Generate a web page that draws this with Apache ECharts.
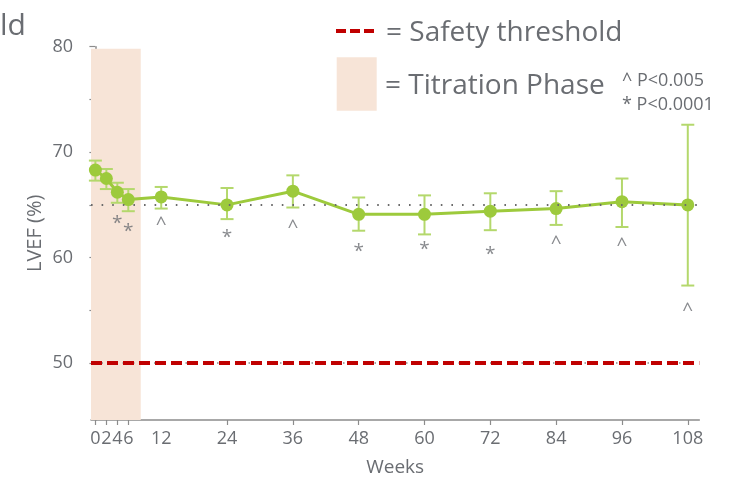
<!DOCTYPE html>
<html>
<head>
<meta charset="utf-8">
<script src="https://cdn.jsdelivr.net/npm/echarts@6/dist/echarts.min.js"></script>
<style>
  html, body { margin: 0; padding: 0; background: #ffffff; }
  #chart { width: 738px; height: 479px; }
</style>
</head>
<body>
<div id="chart"></div>
<script>
// Mean LVEF by study week, with the upper and lower ends of each error bar
const weeks = [0, 2, 4, 6, 12, 24, 36, 48, 60, 72, 84, 96, 108];
const lvefMean = [68.3, 67.5, 66.2, 65.5, 65.75, 65.0, 66.3, 64.1, 64.1, 64.4, 64.65, 65.3, 65.0];
const lvefUpper = [69.2, 68.4, 67.1, 66.5, 66.7, 66.6, 67.8, 65.7, 65.9, 66.1, 66.3, 67.5, 72.6];
const lvefLower = [67.3, 66.5, 65.2, 64.4, 64.65, 63.65, 64.75, 62.55, 62.2, 62.6, 63.1, 62.9, 57.35];

// Significance markers placed under the bars
const sigWeeks = [4, 6, 12, 24, 36, 48, 60, 72, 84, 96, 108];
const sigMarks = ['*', '*', '^', '*', '^', '*', '*', '*', '^', '^', '^'];
const sigLevels = [63.5, 62.7, 63.4, 62.1, 63.1, 60.8, 61.0, 60.5, 61.6, 61.4, 55.2];

// Axis ticks and labels
const xTickWeeks = [0, 2, 4, 6, 24, 36, 48, 60, 72, 84, 96, 108];
const xLabelWeeks = [0, 2, 4, 6, 12, 24, 36, 48, 60, 72, 84, 96, 108];
const yTickValues = [50, 55, 60, 65, 70, 75, 80];
const yLabelValues = [50, 60, 70, 80];

// Reference levels and the titration window
const safetyThreshold = 50;
const baselineLevel = 65;
const titrationStartWeek = -0.8;
const titrationEndWeek = 8.27;
const titrationTop = 79.8;

const xMin = -0.8, xMax = 110.1;
const yMin = 44.6, yMax = 80;

const FONT = '"Open Sans", "DejaVu Sans", sans-serif';
const TEXT = '#6a6d72';
const AXIS = '#8c8c8c';
const GREEN = '#9dca3c';
const GREEN_LIGHT = '#b4d86c';
const RED = '#c00000';
const PEACH = '#f7e4d7';

const chart = echarts.init(document.getElementById('chart'), null, { renderer: 'canvas' });

const errorData = weeks.map((w, i) => [w, lvefLower[i], lvefUpper[i]]);
const meanData = weeks.map((w, i) => [w, lvefMean[i]]);
const sigData = sigWeeks.map((w, i) => ({ value: [w, sigLevels[i]], mark: sigMarks[i] }));

chart.setOption({
  animation: false,
  backgroundColor: '#ffffff',
  grid: { left: 91, right: 38.7, top: 46.7, bottom: 59, outerBoundsMode: 'none', containLabel: false },
  xAxis: {
    type: 'value',
    min: xMin,
    max: xMax,
    name: 'Weeks',
    nameLocation: 'middle',
    nameGap: 38,
    nameMoveOverlap: false,
    nameTextStyle: { color: TEXT, fontFamily: FONT, fontSize: 19 },
    axisLine: { show: true, lineStyle: { color: AXIS, width: 1.5 } },
    axisTick: { show: true, customValues: xTickWeeks, length: 5, lineStyle: { color: AXIS, width: 1.2 } },
    axisLabel: { customValues: xLabelWeeks, color: TEXT, fontFamily: FONT, fontSize: 18, margin: 10 },
    splitLine: { show: false }
  },
  yAxis: {
    type: 'value',
    min: yMin,
    max: yMax,
    name: 'LVEF (%)',
    nameLocation: 'middle',
    nameGap: 46,
    nameMoveOverlap: false,
    nameTextStyle: { color: TEXT, fontFamily: FONT, fontSize: 20 },
    axisLine: { show: true, lineStyle: { color: AXIS, width: 1.5 } },
    axisTick: { show: true, customValues: yTickValues, length: 6, lineStyle: { color: AXIS, width: 1.2 } },
    axisLabel: { customValues: yLabelValues, color: TEXT, fontFamily: FONT, fontSize: 18, margin: 18 },
    splitLine: { show: false }
  },
  graphic: [
    {
      type: 'text', left: 0, top: 11,
      style: { text: 'ld', fill: TEXT, font: '30px ' + FONT }
    },
    {
      type: 'line',
      shape: { x1: 336, y1: 31, x2: 375, y2: 31 },
      style: { stroke: RED, lineWidth: 4, lineDash: [10, 4] }
    },
    {
      type: 'text', x: 386, y: 33,
      style: { text: '= Safety threshold', fill: TEXT, font: '28px ' + FONT, verticalAlign: 'middle' }
    },
    {
      type: 'rect',
      shape: { x: 336.7, y: 57.3, width: 40, height: 53.4 },
      style: { fill: PEACH }
    },
    {
      type: 'text', x: 385, y: 86.5,
      style: { text: '= Titration Phase', fill: TEXT, font: '28px ' + FONT, verticalAlign: 'middle' }
    },
    {
      type: 'text', x: 622, y: 80.5,
      style: { text: '^ P<0.005', fill: TEXT, font: '18px ' + FONT, verticalAlign: 'middle' }
    },
    {
      type: 'text', x: 622, y: 105,
      style: { text: '* P<0.0001', fill: TEXT, font: '18px ' + FONT, verticalAlign: 'middle' }
    }
  ],
  series: [
    {
      // titration window shading plus the two horizontal reference lines
      type: 'line',
      data: [],
      silent: true,
      z: 1,
      markArea: {
        silent: true,
        itemStyle: { color: PEACH },
        data: [[
          { xAxis: titrationStartWeek, yAxis: yMin },
          { xAxis: titrationEndWeek, yAxis: titrationTop }
        ]]
      },
      markLine: {
        silent: true,
        symbol: 'none',
        label: { show: false },
        data: [
          { yAxis: baselineLevel, lineStyle: { color: '#6b6b6b', width: 2, type: [1.6, 9] } },
          { yAxis: safetyThreshold, lineStyle: { color: '#8a8a8a', width: 1.5, type: [1.5, 9] } },
          { yAxis: safetyThreshold, lineStyle: { color: RED, width: 4, type: [11, 5] } }
        ]
      }
    },
    {
      type: 'custom',
      name: 'range',
      z: 3,
      silent: true,
      data: errorData,
      renderItem: function (params, api) {
        const x = api.value(0);
        const lo = api.coord([x, api.value(1)]);
        const hi = api.coord([x, api.value(2)]);
        const half = 6.5;
        const style = { stroke: GREEN_LIGHT, lineWidth: 2 };
        return {
          type: 'group',
          children: [
            { type: 'line', shape: { x1: lo[0], y1: lo[1], x2: hi[0], y2: hi[1] }, style: style },
            { type: 'line', shape: { x1: hi[0] - half, y1: hi[1], x2: hi[0] + half, y2: hi[1] }, style: style },
            { type: 'line', shape: { x1: lo[0] - half, y1: lo[1], x2: lo[0] + half, y2: lo[1] }, style: style }
          ]
        };
      }
    },
    {
      type: 'line',
      name: 'LVEF',
      z: 4,
      data: meanData,
      symbol: 'circle',
      symbolSize: 13,
      showSymbol: true,
      lineStyle: { color: GREEN, width: 3 },
      itemStyle: { color: GREEN, borderWidth: 0 }
    },
    {
      type: 'scatter',
      name: 'significance',
      z: 5,
      silent: true,
      symbolSize: 0,
      data: sigData,
      label: {
        show: true,
        position: 'inside',
        offset: [0, 2.5],
        color: TEXT,
        fontFamily: FONT,
        fontSize: 19,
        formatter: function (p) { return p.data.mark; }
      }
    }
  ]
});
</script>
</body>
</html>
